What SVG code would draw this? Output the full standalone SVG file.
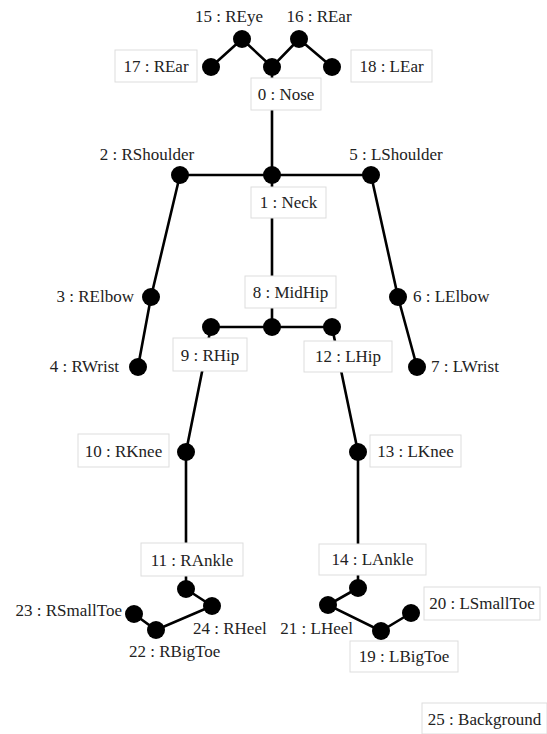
<svg xmlns="http://www.w3.org/2000/svg" width="547" height="734" viewBox="0 0 547 734">
<style>
.e{stroke:#000;stroke-width:2.6;fill:none;stroke-linecap:round}
.n{fill:#000}
.b{fill:#fff;stroke:#ddd;stroke-width:1}
.t{font-family:"Liberation Serif","Times New Roman",serif;font-size:17px;fill:#222}
.m{text-anchor:middle}
.r{text-anchor:end}
</style>
<rect width="547" height="734" fill="#fff"/>
<g id="connectors">
<polyline class="e" points="211,67 242,39 272,67 299,39 332,67"/>
<line class="e" x1="272" y1="67" x2="272" y2="175"/>
<line class="e" x1="180" y1="175" x2="371" y2="175"/>
<polyline class="e" points="180,175 151,297 138,367"/>
<polyline class="e" points="371,175 398,297 417,367"/>
<line class="e" x1="272" y1="175" x2="272" y2="327"/>
<line class="e" x1="211" y1="327" x2="332" y2="327"/>
<polyline class="e" points="211,327 186,452 186,589"/>
<polyline class="e" points="332,327 358,452 358,588"/>
<polyline class="e" points="186,589 212,606 156,630 134,614"/>
<polyline class="e" points="358,588 328,605 381,631 411,613"/>
</g>
<g id="n0"><circle class="n" cx="272" cy="67" r="9"/><rect class="b" x="251" y="78" width="70" height="32"/><text class="t m" x="286" y="100">0 : Nose</text></g>
<g id="n1"><circle class="n" cx="272" cy="175" r="9"/><rect class="b" x="251" y="187" width="75" height="31"/><text class="t m" x="288.5" y="208">1 : Neck</text></g>
<g id="n2"><circle class="n" cx="180" cy="175" r="9"/><text class="t m" x="147" y="160">2 : RShoulder</text></g>
<g id="n3"><circle class="n" cx="151" cy="297" r="9"/><text class="t r" x="134" y="302">3 : RElbow</text></g>
<g id="n4"><circle class="n" cx="138" cy="367" r="9"/><text class="t r" x="119" y="372">4 : RWrist</text></g>
<g id="n5"><circle class="n" cx="371" cy="175" r="9"/><text class="t m" x="396" y="160">5 : LShoulder</text></g>
<g id="n6"><circle class="n" cx="398" cy="297" r="9"/><text class="t" x="413" y="302">6 : LElbow</text></g>
<g id="n7"><circle class="n" cx="417" cy="367" r="9"/><text class="t" x="431" y="372">7 : LWrist</text></g>
<g id="n8"><circle class="n" cx="272" cy="327" r="9"/><rect class="b" x="245" y="276" width="91" height="32"/><text class="t m" x="290.5" y="298">8 : MidHip</text></g>
<g id="n9"><circle class="n" cx="211" cy="327" r="9"/><rect class="b" x="173" y="338" width="74" height="33"/><text class="t m" x="210" y="361">9 : RHip</text></g>
<g id="n10"><circle class="n" cx="186" cy="452" r="9"/><rect class="b" x="78" y="434" width="91" height="33"/><text class="t m" x="123.5" y="457">10 : RKnee</text></g>
<g id="n11"><circle class="n" cx="186" cy="589" r="9"/><rect class="b" x="141" y="543" width="102" height="33"/><text class="t m" x="192" y="566">11 : RAnkle</text></g>
<g id="n12"><circle class="n" cx="332" cy="327" r="9"/><rect class="b" x="304" y="341" width="88" height="31"/><text class="t m" x="348" y="362">12 : LHip</text></g>
<g id="n13"><circle class="n" cx="358" cy="452" r="9"/><rect class="b" x="370" y="435" width="91" height="32"/><text class="t m" x="415.5" y="457">13 : LKnee</text></g>
<g id="n14"><circle class="n" cx="358" cy="588" r="9"/><rect class="b" x="319" y="544" width="107" height="31"/><text class="t m" x="372.5" y="565">14 : LAnkle</text></g>
<g id="n15"><circle class="n" cx="242" cy="39" r="9"/><text class="t m" x="229" y="22">15 : REye</text></g>
<g id="n16"><circle class="n" cx="299" cy="39" r="9"/><text class="t m" x="319" y="22">16 : REar</text></g>
<g id="n17"><circle class="n" cx="211" cy="67" r="9"/><rect class="b" x="115" y="50" width="82" height="32"/><text class="t m" x="156" y="72">17 : REar</text></g>
<g id="n18"><circle class="n" cx="332" cy="67" r="9"/><rect class="b" x="351" y="50" width="81" height="32"/><text class="t m" x="391.5" y="72">18 : LEar</text></g>
<g id="n19"><circle class="n" cx="381" cy="631" r="9"/><rect class="b" x="350" y="641" width="108" height="31"/><text class="t m" x="404" y="662">19 : LBigToe</text></g>
<g id="n20"><circle class="n" cx="411" cy="613" r="9"/><rect class="b" x="424" y="587" width="116" height="33"/><text class="t m" x="482" y="609">20 : LSmallToe</text></g>
<g id="n21"><circle class="n" cx="328" cy="605" r="9"/><text class="t r" x="353" y="634">21 : LHeel</text></g>
<g id="n22"><circle class="n" cx="156" cy="630" r="9"/><text class="t" x="129" y="657">22 : RBigToe</text></g>
<g id="n23"><circle class="n" cx="134" cy="614" r="9"/><text class="t r" x="122" y="616">23 : RSmallToe</text></g>
<g id="n24"><circle class="n" cx="212" cy="606" r="9"/><text class="t" x="193" y="634">24 : RHeel</text></g>
<g id="n25"><rect class="b" x="422" y="703" width="125" height="31"/><text class="t m" x="484.5" y="725">25 : Background</text></g>
</svg>
